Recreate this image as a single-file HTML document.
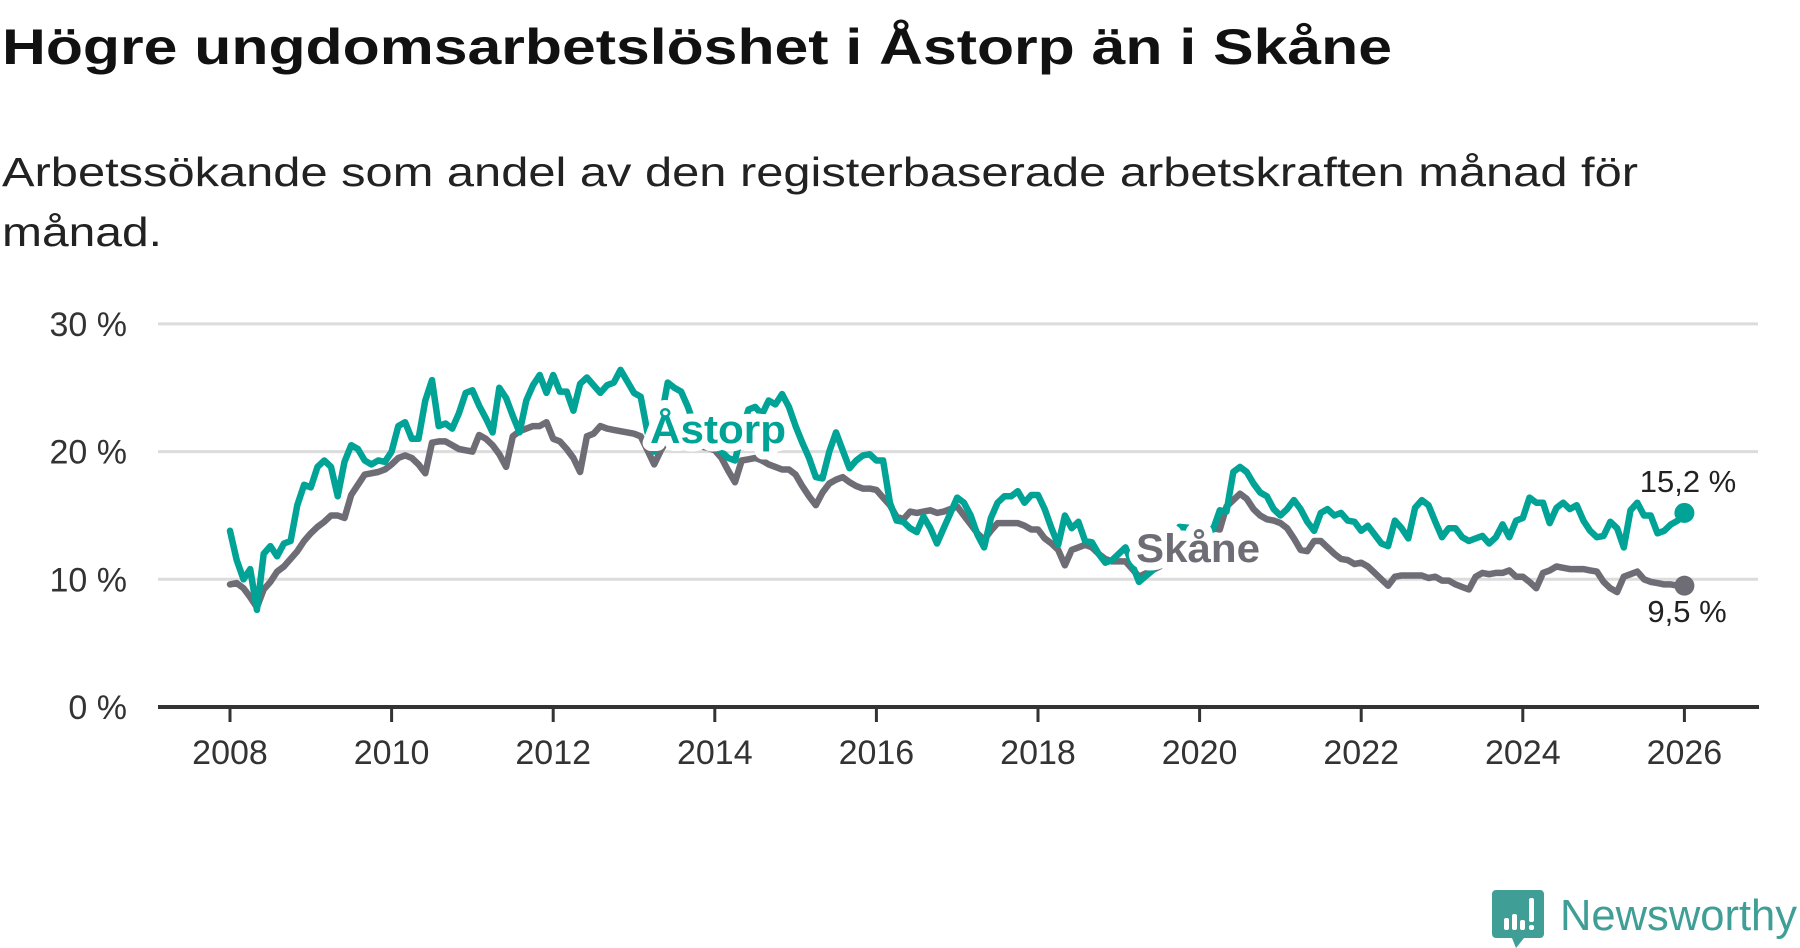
<!DOCTYPE html>
<html><head><meta charset="utf-8"><style>
html,body{margin:0;padding:0;background:#fff;width:1800px;height:948px;overflow:hidden}
svg{display:block;font-family:"Liberation Sans",sans-serif}
</style></head><body>
<svg id="chart" width="1800" height="948" viewBox="0 0 1800 948">
<text x="2" y="64" font-size="50" font-weight="bold" fill="#111" textLength="1390" lengthAdjust="spacingAndGlyphs">Högre ungdomsarbetslöshet i Åstorp än i Skåne</text>
<text x="2" y="186" font-size="41" fill="#222" textLength="1636" lengthAdjust="spacingAndGlyphs">Arbetssökande som andel av den registerbaserade arbetskraften månad för</text>
<text x="2" y="246" font-size="41" fill="#222" textLength="160" lengthAdjust="spacingAndGlyphs">månad.</text>
<g id="grid"></g>
<g id="xaxis"></g>
<g id="series"></g>
<g id="labels"></g>
<g>
<path d="M1496 890 h44 a4 4 0 0 1 4 4 v40 a4 4 0 0 1 -4 4 h-16 l-8 10 l-4 -10 h-16 a4 4 0 0 1 -4 -4 v-40 a4 4 0 0 1 4 -4z" fill="#3f9e96"/>
<rect x="1504" y="918" width="5" height="12" rx="2" fill="#fff"/>
<rect x="1512" y="914" width="5" height="16" rx="2" fill="#fff"/>
<rect x="1520" y="920" width="5" height="10" rx="2" fill="#fff"/>
<rect x="1529" y="898" width="5" height="24" rx="2" fill="#fff"/>
<rect x="1529" y="925" width="5" height="5" rx="2" fill="#fff"/>
<text x="1560" y="930" font-size="44" fill="#3f9e96" textLength="237" lengthAdjust="spacingAndGlyphs">Newsworthy</text>
</g>
</svg>
<script>
const yTicks = [0, 10, 20, 30];
const yTickLabels = ["0 %", "10 %", "20 %", "30 %"];
const xTicks = [2008, 2010, 2012, 2014, 2016, 2018, 2020, 2022, 2024, 2026];
const astorpMonths = [0,1,2,3,4,5,6,7,8,9,10,11,12,13,14,15,16,17,18,19,20,21,22,23,24,25,26,27,28,29,30,31,32,33,34,35,36,37,38,39,40,41,42,43,44,45,46,47,48,49,50,51,52,53,54,55,56,57,58,59,60,61,62,63,64,65,66,67,68,69,70,71,72,73,74,75,76,77,78,79,80,81,82,83,84,85,86,87,88,89,90,91,92,93,94,95,96,97,98,99,100,101,102,103,104,105,106,107,108,109,110,111,112,113,114,115,116,117,118,119,120,121,122,123,124,125,126,127,128,129,130,131,132,133,135,137,141,145,146,147,148,149,150,151,152,153,154,155,156,157,158,159,160,161,162,163,164,165,166,167,168,169,170,171,172,173,174,175,176,177,178,179,180,181,182,183,184,185,186,187,188,189,190,191,192,193,194,195,196,197,198,199,200,201,202,203,204,205,206,207,208,209,210,211,212,213,214,215,216];
const astorpValues = [13.8,11.5,10,10.8,7.6,12,12.6,11.8,12.8,13,15.8,17.4,17.2,18.8,19.3,18.8,16.5,19.2,20.5,20.2,19.3,19,19.3,19.2,20,22,22.3,21,21,24,25.6,22,22.2,21.8,23,24.6,24.8,23.6,22.6,21.5,25,24.2,22.8,21.5,24,25.2,26,24.6,26,24.7,24.7,23.2,25.3,25.8,25.2,24.6,25.2,25.4,26.4,25.5,24.6,24.3,21.5,20,22.5,25.4,25,24.7,23.5,22,21,20.5,20.3,20,19.5,19.3,21.5,23.3,23.5,22.9,24,23.7,24.5,23.5,22,20.7,19.5,18,17.9,20,21.5,20.1,18.7,19.3,19.7,19.8,19.3,19.3,16,14.6,14.5,14,13.7,14.9,14,12.8,14,15.2,16.4,16,15,13.5,12.5,14.8,16,16.5,16.5,16.9,16,16.6,16.6,15.5,14,12.7,15,14,14.5,13,12.9,12,11.3,11.5,12,12.5,9.8,10.7,14.1,13.9,13.9,15.4,15.3,18.4,18.8,18.4,17.5,16.8,16.5,15.5,15,15.5,16.2,15.5,14.5,13.8,15.2,15.5,15,15.2,14.6,14.5,13.8,14.2,13.5,12.8,12.6,14.6,14,13.2,15.6,16.2,15.8,14.5,13.3,14,14,13.3,13,13.2,13.4,12.8,13.3,14.3,13.3,14.6,14.8,16.4,16,16,14.4,15.6,16,15.5,15.8,14.6,13.8,13.3,13.4,14.5,14,12.5,15.4,16,15,15,13.6,13.8,14.3,14.6,15.2];
const skaneMonths = [0,1,2,3,4,5,6,7,8,9,10,11,12,13,14,15,16,17,18,19,20,21,22,23,24,25,26,27,28,29,30,31,32,33,34,35,36,37,38,39,40,41,42,43,44,45,46,47,48,49,50,51,52,53,54,55,56,57,58,59,60,61,62,63,64,65,66,67,68,69,70,71,72,73,74,75,76,77,78,79,80,81,82,83,84,85,86,87,88,89,90,91,92,93,94,95,96,97,98,99,100,101,102,103,104,105,106,107,108,109,110,111,112,113,114,115,116,117,118,119,120,121,122,123,124,125,126,127,128,129,130,131,132,133,134,135,140,146,147,148,149,150,151,152,153,154,155,156,157,158,159,160,161,162,163,164,165,166,167,168,169,170,171,172,173,174,175,176,177,178,179,180,181,182,183,184,185,186,187,188,189,190,191,192,193,194,195,196,197,198,199,200,201,202,203,204,205,206,207,208,209,210,211,212,213,214,215,216];
const skaneValues = [9.6,9.7,9.3,8.6,7.8,9.2,9.8,10.6,11,11.6,12.2,13,13.6,14.1,14.5,15,15,14.8,16.6,17.4,18.2,18.3,18.4,18.6,19,19.5,19.7,19.5,19,18.3,20.7,20.8,20.8,20.5,20.2,20.1,20,21.3,21,20.5,19.8,18.8,21.2,21.6,21.8,22,22,22.3,21,20.8,20.2,19.5,18.4,21.2,21.4,22,21.8,21.7,21.6,21.5,21.4,21.2,20.1,19,20.1,21,21,20.8,20.7,20.5,20.4,20.3,20.1,19.5,18.5,17.6,19.3,19.4,19.5,19.3,19,18.8,18.6,18.6,18.2,17.3,16.5,15.8,16.8,17.5,17.8,18,17.6,17.3,17.1,17.1,17,16.4,15.8,14.9,14.7,15.3,15.2,15.3,15.4,15.2,15.3,15.5,15.7,15,14.3,13.6,13.1,13.8,14.4,14.4,14.4,14.4,14.2,13.9,13.9,13.2,12.8,12.3,11.1,12.3,12.5,12.7,12.5,12,11.6,11.4,11.4,11.4,10.8,10.2,11.5,14,13.9,15.7,16.2,16.7,16.3,15.5,15,14.7,14.6,14.4,14,13.2,12.3,12.2,13,13,12.5,12,11.6,11.5,11.2,11.3,11,10.5,10,9.5,10.2,10.3,10.3,10.3,10.3,10.1,10.2,9.9,9.9,9.6,9.4,9.2,10.2,10.5,10.4,10.5,10.5,10.7,10.2,10.2,9.8,9.3,10.5,10.7,11,10.9,10.8,10.8,10.8,10.7,10.6,9.8,9.3,9,10.2,10.4,10.6,10,9.8,9.7,9.6,9.6,9.5,9.5];
const endLabels = ["15,2 %", "9,5 %"];

const NS = "http://www.w3.org/2000/svg";
const X0 = 230, PX_PER_YEAR = 80.8, Y0 = 707, PX_PER_PCT = 12.77;
function xYear(y){ return X0 + (y - 2008) * PX_PER_YEAR; }
function xMonth(m){ return xYear(2008 + m / 12); }
function yVal(v){ return Y0 - v * PX_PER_PCT; }
function mk(tag, attrs, parent){ const e=document.createElementNS(NS,tag); for(const k in attrs) e.setAttribute(k, attrs[k]); parent.appendChild(e); return e; }

const grid = document.getElementById('grid');
yTicks.forEach((t,i)=>{
  if (t !== 0) {
    const l = mk('line',{x1:158,x2:1758,y1:yVal(t),y2:yVal(t),stroke:'#dcdcdc','stroke-width':3},grid);
    
    
  }
  const tx = mk('text',{x:127,y:yVal(t)+12,'text-anchor':'end','font-size':34,fill:'#333'},grid);
  tx.textContent = yTickLabels[i];
  
  
});
const xa = document.getElementById('xaxis');
const axl = mk('line',{x1:158,x2:1759,y1:Y0,y2:Y0,stroke:'#333','stroke-width':4},xa);


xTicks.forEach(t=>{
  const tk = mk('line',{x1:xYear(t),x2:xYear(t),y1:Y0,y2:Y0+15,stroke:'#333','stroke-width':3},xa);
  
  
  const tx = mk('text',{x:xYear(t),y:764,'text-anchor':'middle','font-size':34,fill:'#333'},xa);
  tx.textContent = t;
  
  
});

const ser = document.getElementById('series');
function drawLine(months, vals, color, name){
  const d = months.map((m,i)=>(i?'L':'M')+xMonth(m).toFixed(1)+' '+yVal(vals[i]).toFixed(1)).join(' ');
  const p = mk('path',{d:d,fill:'none',stroke:color,'stroke-width':6.5,'stroke-linejoin':'round','stroke-linecap':'round'},ser);
  
  
  const n = months.length-1;
  const c = mk('circle',{cx:xMonth(months[n]),cy:yVal(vals[n]),r:10,fill:color},ser);
  
  
}
drawLine(skaneMonths, skaneValues, '#6e6d75', 'skane');
drawLine(astorpMonths, astorpValues, '#00a396', 'astorp');

const lab = document.getElementById('labels');
function label(x,y,txt,color,name,size,bold,halo,len){
  const t = mk('text',{x:x,y:y,'font-size':size,'font-weight':bold?'bold':'normal',fill:color,'text-anchor':'middle',stroke:'#fff','stroke-width':halo,'paint-order':'stroke','stroke-linejoin':'round'},lab);
  if (len) { t.setAttribute('textLength', len); t.setAttribute('lengthAdjust', 'spacingAndGlyphs'); }
  t.textContent = txt;
  
  
}
label(718, 443, 'Åstorp', '#00a396', 'astorp-series-label', 40, true, 16, 136);
label(1198, 562, 'Skåne', '#6e6d75', 'skane-series-label', 40, true, 16, 124);
label(1688, 492, endLabels[0], '#222', 'astorp-end-value', 31, false, 6);
label(1687, 622, endLabels[1], '#222', 'skane-end-value', 31, false, 6);
</script>
</body></html>
